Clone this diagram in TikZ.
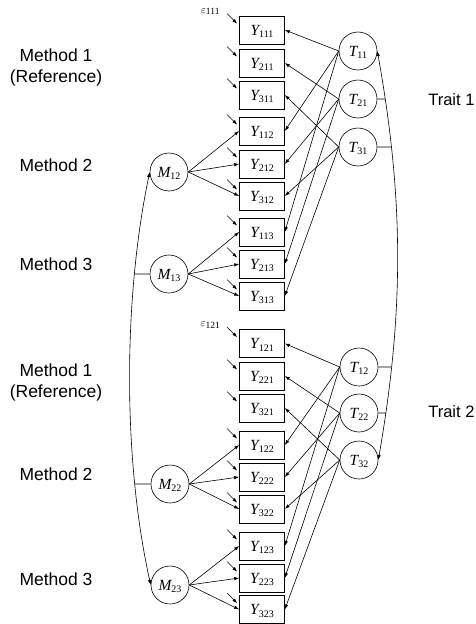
\documentclass[tikz,border=0pt]{standalone}
\usepackage{fontspec}
\setmainfont{Liberation Sans}
\newfontfamily\serifface{Liberation Serif}
\usetikzlibrary{arrows.meta,calc,intersections}

% italic variable letter with an upright, lowered index
\newcommand{\varlab}[2]{{\serifface\fontsize{15.5}{16}\selectfont\itshape #1}\smash{\raisebox{-2.5pt}{\serifface\fontsize{10}{10}\selectfont #2}}}
% residual label
\newcommand{\errlab}[1]{{\fontsize{11}{11}\selectfont$\varepsilon$}\raisebox{-1.5pt}{\serifface\fontsize{9.5}{10}\selectfont #1}}

\begin{document}
\begin{tikzpicture}[x=1pt, y=-1pt, line width=0.6pt,
  >={Latex[length=5pt,width=3.5pt]},
  obs/.style={draw, minimum width=45pt, minimum height=28pt, inner sep=0pt},
  lat/.style={draw, circle, minimum size=38pt, inner sep=0pt},
  grouplab/.style={font=\fontsize{17.5}{21}\selectfont, anchor=base, inner sep=0pt},
  traitlab/.style={font=\fontsize{16.5}{20}\selectfont, anchor=base west, inner sep=0pt},
  errlabel/.style={inner sep=0pt}]
\useasboundingbox (0,0) rectangle (476,624);

% observed indicators Y_{itm}
\foreach \n/\y in {111/30, 211/63, 311/95, 112/131, 212/164, 312/196,
                   113/232, 213/264, 313/296, 121/343.5, 221/376, 321/408,
                   122/445, 222/477, 322/509, 123/546, 223/578, 323/609.5}{
  \node[obs] (Y\n) at (262,\y) {\varlab{Y}{\n}};
  \coordinate (e\n) at ($(Y\n.north west)+(-12,-2)$);
  \draw[->] (e\n) -- ($(Y\n.north west)+(-2,8)$);
}
\node[errlabel] (eps111) at ($(e111)+(-17,-2)$) {\errlab{111}};
\node[errlabel] (eps121) at ($(e121)+(-17,-2)$) {\errlab{121}};

% trait factors
\node[lat] (T11) at (358,51)  {\varlab{T}{11}};
\node[lat] (T21) at (358,99)  {\varlab{T}{21}};
\node[lat] (T31) at (358,147) {\varlab{T}{31}};
\node[lat] (T12) at (359,367) {\varlab{T}{12}};
\node[lat] (T22) at (359,413) {\varlab{T}{22}};
\node[lat] (T32) at (359,460) {\varlab{T}{32}};

% method factors
\node[lat] (M12) at (169,172) {\varlab{M}{12}};
\node[lat] (M13) at (169,274) {\varlab{M}{13}};
\node[lat] (M22) at (170,484) {\varlab{M}{22}};
\node[lat] (M23) at (170,585) {\varlab{M}{23}};

% trait loadings
\foreach \i in {1,2,3}
  \foreach \t in {1,2}
    \foreach \m in {1,2,3}
      \draw[->] (T\i\t.west) -- (Y\i\t\m.east);

% method loadings
\foreach \t in {1,2}
  \foreach \m in {2,3}
    \foreach \i in {1,2,3}
      \draw[->] (M\t\m.east) -- (Y\i\t\m.west);

% correlations among method factors
\draw[<->, name path=mcorr] (M12.west) .. controls (123,300) and (123,460) .. (M23.west);
\foreach \f in {M13,M22}{
  \path[name path=ray\f] (\f.west) -- ++(-45,0);
  \draw[name intersections={of=mcorr and ray\f, by=j\f}] (\f.west) -- (j\f);
}

% correlations among trait factors
\draw[<->, name path=tcorr] (T11.east) .. controls (404,200) and (404,312) .. (T32.east);
\foreach \f in {T21,T31,T12,T22}{
  \path[name path=ray\f] (\f.east) -- ++(45,0);
  \draw[name intersections={of=tcorr and ray\f, by=j\f}] (\f.east) -- (j\f);
}

% group labels
\node[grouplab] (m1a) at (56,61)  {Method 1};
\node[grouplab] (m1b) at (56,82)  {(Reference)};
\node[grouplab] (m2a) at (56,171) {Method 2};
\node[grouplab] (m3a) at (56,270) {Method 3};
\node[grouplab] (m1c) at (56,376) {Method 1};
\node[grouplab] (m1d) at (56,397) {(Reference)};
\node[grouplab] (m2b) at (56,480) {Method 2};
\node[grouplab] (m3b) at (56,585) {Method 3};

\node[traitlab] (tr1) at (428,105) {Trait 1};
\node[traitlab] (tr2) at (428,417) {Trait 2};
\end{tikzpicture}
\end{document}
